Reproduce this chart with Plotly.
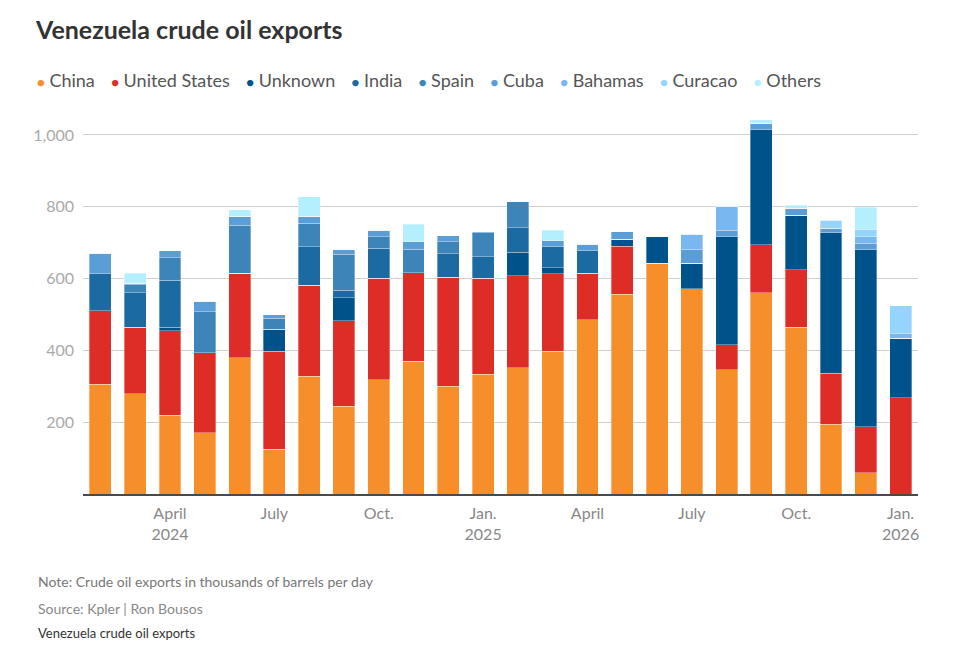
import plotly.graph_objects as go

months = ["2024-02", "2024-03", "2024-04", "2024-05", "2024-06", "2024-07", "2024-08", "2024-09",
          "2024-10", "2024-11", "2024-12", "2025-01", "2025-02", "2025-03", "2025-04", "2025-05",
          "2025-06", "2025-07", "2025-08", "2025-09", "2025-10", "2025-11", "2025-12", "2026-01"]

china =   [306, 279, 220, 171, 379, 124, 328, 244, 318, 370, 300, 334, 351, 397, 486, 556, 643, 571, 346, 560, 465, 194, 59, 0]
us =      [204, 186, 234, 222, 236, 273, 254, 238, 283, 246, 304, 267, 257, 216, 129, 134, 0, 0, 70, 134, 160, 143, 128, 268]
unknown = [0, 0, 11, 0, 0, 62, 0, 65, 0, 0, 0, 0, 66, 17, 0, 19, 74, 72, 300, 320, 152, 390, 493, 166]
india =   [103, 96, 131, 0, 0, 0, 107, 21, 83, 0, 65, 60, 67, 59, 62, 0, 0, 0, 0, 0, 0, 0, 0, 0]
spain =   [0, 22, 62, 114, 134, 31, 65, 100, 33, 66, 33, 66, 75, 0, 0, 0, 0, 0, 0, 0, 0, 0, 0, 0]
cuba =    [57, 4, 19, 30, 25, 9, 20, 12, 18, 20, 17, 3, 0, 16, 18, 21, 0, 39, 19, 18, 19, 13, 18, 0]
bahamas = [0, 0, 0, 0, 0, 0, 0, 0, 0, 0, 0, 0, 0, 0, 0, 0, 0, 42, 67, 0, 0, 0, 18, 14]
curacao = [0, 0, 0, 0, 0, 0, 0, 0, 0, 0, 0, 0, 0, 0, 0, 0, 0, 0, 0, 0, 0, 23, 21, 76]
others =  [0, 28, 0, 0, 17, 0, 54, 0, 0, 50, 0, 0, 0, 30, 0, 0, 0, 0, 0, 10, 8, 0, 61, 0]

series_names = ["China", "United States", "Unknown", "India", "Spain", "Cuba", "Bahamas", "Curacao", "Others"]
series_values = [china, us, unknown, india, spain, cuba, bahamas, curacao, others]
colors = ["#F68E2A", "#DE2D27", "#00538A", "#1B6BA2", "#3D84B9", "#5B9DD6", "#79B7F0", "#95D4FD", "#B3EFFD"]

tick_months = ["2024-04", "2024-07", "2024-10", "2025-01", "2025-04", "2025-07", "2025-10", "2026-01"]
tick_labels = ["April<br>2024", "July", "Oct.", "Jan.<br>2025", "April", "July", "Oct.", "Jan.<br>2026"]
y_ticks = [200, 400, 600, 800, 1000]

FONT = "Lato"

fig = go.Figure()
for name, vals, col in zip(series_names, series_values, colors):
    fig.add_trace(go.Bar(
        x=months, y=vals, name=name, marker_color=col,
        marker_line=dict(width=0.6, color="rgba(255,255,255,0.55)"),
        showlegend=False,
    ))

# plot area: x 83..918, y 117..494 (pixels)
L, R, T, B = 83, 58, 117, 162
H = 656 - T - B
W = 976 - L - R

def px_x(px):
    return (px - L) / W

def px_y(py):
    return (656 - B - py) / H

gap = '<span style="font-size:16px">&nbsp;&nbsp;&nbsp;&nbsp;</span>'
legend_html = gap.join(
    f'<span style="color:{c};font-size:13px">●</span> {n}' for n, c in zip(series_names, colors)
)

annotations = [
    dict(text=legend_html, x=px_x(35), y=px_y(80), xref="paper", yref="paper",
         xanchor="left", yanchor="middle", showarrow=False,
         font=dict(family=FONT, size=18, color="#555555")),
    dict(text="Note: Crude oil exports in thousands of barrels per day", x=px_x(36), y=px_y(581),
         xref="paper", yref="paper", xanchor="left", yanchor="middle", showarrow=False,
         font=dict(family=FONT, size=14, color="#777777")),
    dict(text="Source: Kpler | Ron Bousos", x=px_x(36), y=px_y(608),
         xref="paper", yref="paper", xanchor="left", yanchor="middle", showarrow=False,
         font=dict(family=FONT, size=14, color="#888888")),
    dict(text="Venezuela crude oil exports", x=px_x(36), y=px_y(633),
         xref="paper", yref="paper", xanchor="left", yanchor="middle", showarrow=False,
         font=dict(family=FONT, size=13, color="#333333")),
]

fig.update_layout(
    barmode="stack",
    bargap=0.37,
    width=976, height=656,
    margin=dict(l=L, r=R, t=T, b=B),
    paper_bgcolor="white", plot_bgcolor="white",
    title=dict(text="<b>Venezuela crude oil exports</b>", x=36 / 976, xanchor="left",
               y=1 - 30 / 656, yanchor="middle",
               font=dict(family=FONT, size=25, color="#333333")),
    annotations=annotations,
    xaxis=dict(type="category", categoryorder="array", categoryarray=months,
               range=[-0.5, len(months) - 0.5],
               tickmode="array", tickvals=tick_months, ticktext=tick_labels,
               showgrid=False, showline=True, linecolor="#4a4a4a", linewidth=1.5,
               ticks="", ticklabelstandoff=4,
               tickfont=dict(family=FONT, size=16, color="#888888")),
    yaxis=dict(range=[0, 1050], tickmode="array", tickvals=y_ticks, tickformat=",",
               showgrid=True, gridcolor="#d0d0d0", gridwidth=1, zeroline=False,
               ticks="", ticklabelstandoff=8,
               tickfont=dict(family=FONT, size=16, color="#aaaaaa")),
    font=dict(family=FONT),
)

fig.write_html("out.html")
